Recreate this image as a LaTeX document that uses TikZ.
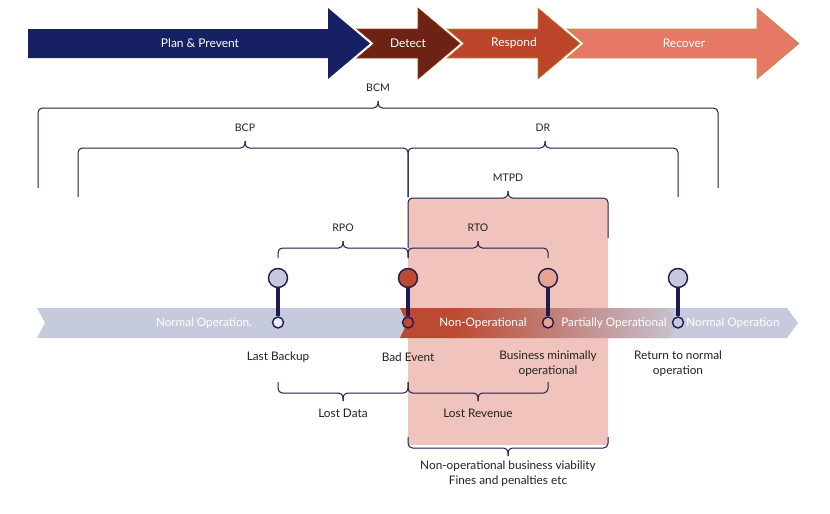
\documentclass[tikz,border=0pt]{standalone}
\usepackage{fontspec}
\setmainfont{Lato}
\definecolor{navy}{HTML}{172063}
\definecolor{detectc}{HTML}{6D2314}
\definecolor{detectedge}{HTML}{A3341C}
\definecolor{respondc}{HTML}{BB4429}
\definecolor{recoverc}{HTML}{E57966}
\definecolor{oliveedge}{HTML}{B0953A}
\definecolor{bandgray}{HTML}{C5CBDC}
\definecolor{bandred}{HTML}{BC4A32}
\definecolor{bandmid}{HTML}{C28284}
\definecolor{bandend}{HTML}{C8C3D2}
\definecolor{pinkbox}{HTML}{F0C4BC}
\definecolor{bracec}{HTML}{1C1C4E}
\definecolor{txt}{HTML}{222222}
\definecolor{salmon}{HTML}{E8A292}
\definecolor{smallwhite}{HTML}{E9ECF3}
\tikzset{
  bracestyle/.style={draw=bracec, line width=1pt, rounded corners=4.5pt},
  lbl/.style={text=txt, font=\fontsize{11.8}{15}\selectfont, inner sep=0pt, align=center},
  blbl/.style={text=txt, font=\fontsize{10.5}{12}\selectfont, inner sep=0pt},
  wlbl/.style={text=white, font=\fontsize{11.7}{13}\selectfont, inner sep=0pt},
  tlbl/.style={text=white, font=\fontsize{12}{13}\selectfont, inner sep=0pt},
  bigpin/.style={circle, draw=bracec, line width=1.4pt, minimum size=19pt, inner sep=0pt},
  smallpin/.style={circle, draw=bracec, line width=1.4pt, minimum size=11pt, inner sep=0pt},
  stem/.style={draw=bracec, line width=3.2pt}
}
\newcommand\upbrace[6]{%
  \draw[bracestyle] (#1,#5) -- (#1,#4) -- (#3,#4) -- (#3,#4-7);
  \draw[bracestyle] (#2,#6) -- (#2,#4) -- (#3,#4) -- (#3,#4-7);}
\newcommand\downbrace[5]{%
  \draw[bracestyle] (#1,#5) -- (#1,#4) -- (#3,#4) -- (#3,#4+8);
  \draw[bracestyle] (#2,#5) -- (#2,#4) -- (#3,#4) -- (#3,#4+8);}
\begin{document}
\begin{tikzpicture}[x=1pt, y=-1pt]
\useasboundingbox (0,0) rectangle (830,514);
\fill[white] (0,0) rectangle (830,514);

% top phase arrows
\fill[navy] (28,29) -- (328,29) -- (328,8) -- (370,43.5) -- (328,79) -- (328,58) -- (28,58) -- cycle;
\filldraw[fill=detectc, draw=detectedge, line width=0.6pt] (357,29) -- (418,29) -- (418,8) -- (460,43.5) -- (418,79) -- (418,58) -- (357,58) -- (374,43.5) -- cycle;
\filldraw[fill=respondc, draw=oliveedge, line width=0.6pt] (447,29) -- (538,29) -- (538,8) -- (580,43.5) -- (538,79) -- (538,58) -- (447,58) -- (464,43.5) -- cycle;
\filldraw[fill=recoverc, draw=oliveedge, line width=0.6pt] (567,29) -- (757,29) -- (757,8) -- (799,43.5) -- (757,79) -- (757,58) -- (567,58) -- (584,43.5) -- cycle;
\node[tlbl] (tplan) at (200,43.5) {Plan \& Prevent};
\node[tlbl] (tdetect) at (408,43.5) {Detect};
\node[tlbl] (trespond) at (514,43.5) {Respond};
\node[tlbl] (trecover) at (684,43.5) {Recover};

% MTPD pink area
\fill[pinkbox] (408,445) [rounded corners=5pt]-- (408,198) -- (608,198) [sharp corners]-- (608,445) -- cycle;

% upper braces
\upbrace{38}{718}{378}{108}{188}{188}
\node[blbl] (lbcm) at (378,88) {BCM};
\upbrace{78}{408}{245}{148}{197}{197}
\node[blbl] (lbcp) at (245,128) {BCP};
\upbrace{408}{678}{545}{148}{197}{197}
\node[blbl] (ldr) at (543,128) {DR};
\upbrace{408}{608}{508}{198}{248}{238}
\node[blbl] (lmtpd) at (508,178) {MTPD};
\upbrace{278}{408}{343}{248}{258}{258}
\node[blbl] (lrpo) at (343,228) {RPO};
\upbrace{408}{548}{478}{248}{258}{258}
\node[blbl] (lrto) at (478,228) {RTO};

% timeline band
\fill[bandgray] (37,308) -- (787,308) -- (798,323) -- (787,338) -- (37,338) -- (45,323) -- cycle;
\begin{scope}
\clip (400,308) -- (670,308) -- (678,323) -- (670,338) -- (400,338) -- (407,323) -- cycle;
\fill[bandred] (399,307) rectangle (456,339);
\shade[left color=bandred, middle color=bandmid, right color=bandend] (455,307) rectangle (679,339);
\end{scope}
\node[wlbl] (bn1) at (204,323) {Normal Operation.};
\node[wlbl] (bn2) at (483,323) {Non-Operational};
\node[wlbl] (bn3) at (614,323) {Partially Operational};
\node[wlbl] (bn4) at (733,323) {Normal Operation};

% pins
\node[bigpin, fill=bandgray] (p1) at (278,278) {};
\node[smallpin, fill=smallwhite] (q1) at (278,322.5) {};
\draw[stem] (p1) -- (q1);
\node[bigpin, fill=bandred] (p2) at (408,278) {};
\node[smallpin, fill=bandred] (q2) at (408,322.5) {};
\draw[stem] (p2) -- (q2);
\node[bigpin, fill=salmon] (p3) at (548,278) {};
\node[smallpin, fill=salmon] (q3) at (548,322.5) {};
\draw[stem] (p3) -- (q3);
\node[bigpin, fill=bandgray] (p4) at (678,278) {};
\node[smallpin, fill=bandgray] (q4) at (678,322.5) {};
\draw[stem] (p4) -- (q4);

% event labels
\node[lbl] (e1) at (278,357) {Last Backup};
\node[lbl] (e2) at (408,357) {Bad Event};
\node[lbl] (e3) at (548,363.5) {Business minimally\\operational};
\node[lbl] (e4) at (678,363.5) {Return to normal\\operation};

% lower braces
\downbrace{278}{408}{343}{393}{382}
\node[lbl] (ldata) at (343,413) {Lost Data};
\downbrace{408}{548}{478}{393}{382}
\node[lbl] (lrev) at (478,413) {Lost Revenue};
\downbrace{408}{608}{508}{448}{437}
\node[lbl] (lnon) at (508,473.5) {Non-operational business viability\\Fines and penalties etc};
\end{tikzpicture}
\end{document}
